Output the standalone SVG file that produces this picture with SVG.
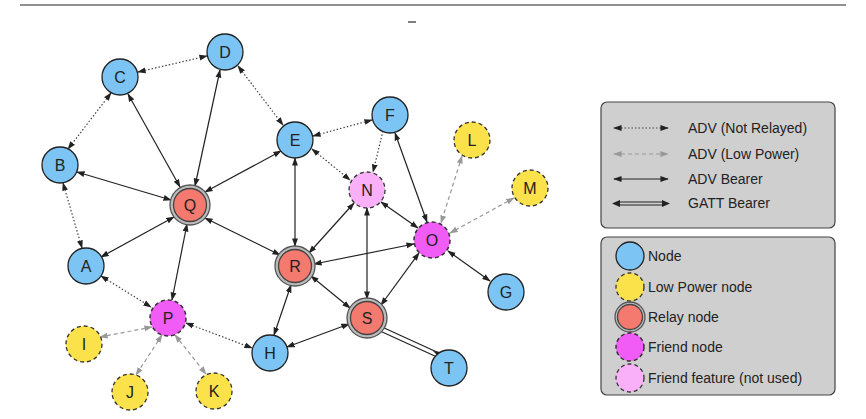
<svg xmlns="http://www.w3.org/2000/svg" width="866" height="419" viewBox="0 0 866 419">
<style>
text{font-family:"Liberation Sans",Arial,sans-serif;fill:#222}
.n text{font-size:16px;text-anchor:middle;dominant-baseline:central}
.node{fill:#7cc4f4;stroke:#222;stroke-width:1.3}
.lp{fill:#fce24a;stroke:#333;stroke-width:1.3;stroke-dasharray:4 3}
.relay{fill:#f47a70;stroke:#444;stroke-width:1.3}
.ring{fill:#bbb;stroke:#555;stroke-width:1.3}
.fr{fill:#f05cf5;stroke:#333;stroke-width:1.5;stroke-dasharray:4 3}
.ff{fill:#fab0f8;stroke:#333;stroke-width:1.3;stroke-dasharray:4 3}
.s{stroke:#222;stroke-width:1.2;fill:none;marker-start:url(#a);marker-end:url(#a)}
.d{stroke:#444;stroke-width:1.2;stroke-dasharray:1.5 2;fill:none;marker-start:url(#a);marker-end:url(#a)}
.l{stroke:#999;stroke-width:1.2;stroke-dasharray:4 3;fill:none;marker-start:url(#g);marker-end:url(#g)}
.legend{fill:#cfcfcf;stroke:#444;stroke-width:1.2}
.lt{font-size:14px}
</style>
<defs>
<marker id="a" viewBox="0 0 10 10" refX="9" refY="5" markerWidth="7" markerHeight="7" orient="auto-start-reverse"><path d="M0,1.5L10,5L0,8.5z" fill="#222"/></marker>
<marker id="g" viewBox="0 0 10 10" refX="9" refY="5" markerWidth="7" markerHeight="7" orient="auto-start-reverse"><path d="M0,1.5L10,5L0,8.5z" fill="#999"/></marker>
</defs>
<line x1="20" y1="5" x2="846" y2="5" stroke="#222" stroke-width="1"/>
<line x1="408" y1="22" x2="416" y2="22" stroke="#555" stroke-width="1.5"/>
<g id="connectors">
<line class="d" x1="138" y1="72" x2="207" y2="56"/>
<line class="d" x1="111" y1="93" x2="68" y2="149"/>
<line class="d" x1="63" y1="183" x2="82" y2="248"/>
<line class="d" x1="238" y1="66" x2="283" y2="125"/>
<line class="d" x1="313" y1="136" x2="372" y2="120"/>
<line class="d" x1="312" y1="149" x2="350" y2="180"/>
<line class="d" x1="383" y1="131" x2="373" y2="172" style="marker-start:none"/>
<line class="d" x1="101" y1="276" x2="151" y2="307"/>
<line class="d" x1="186" y1="323" x2="252" y2="348"/>
<line class="l" x1="462" y1="156" x2="441" y2="223"/>
<line class="l" x1="514" y1="198" x2="450" y2="233"/>
<line class="l" x1="152" y1="327" x2="100" y2="337"/>
<line class="l" x1="162" y1="335" x2="136" y2="375"/>
<line class="l" x1="175" y1="335" x2="206" y2="374"/>
<line class="s" x1="128" y1="94" x2="180" y2="187"/>
<line class="s" x1="220" y1="70" x2="195" y2="186"/>
<line class="s" x1="77" y1="172" x2="171" y2="200"/>
<line class="s" x1="281" y1="151" x2="205" y2="192"/>
<line class="s" x1="174" y1="217" x2="101" y2="257"/>
<line class="s" x1="187" y1="224" x2="172" y2="300"/>
<line class="s" x1="205" y1="218" x2="280" y2="255"/>
<line class="s" x1="295" y1="158" x2="295" y2="246"/>
<line class="s" x1="395" y1="133" x2="427" y2="222"/>
<line class="s" x1="381" y1="202" x2="418" y2="228"/>
<line class="s" x1="354" y1="203" x2="309" y2="253"/>
<line class="s" x1="414" y1="244" x2="314" y2="264"/>
<line class="s" x1="367" y1="208" x2="367" y2="299"/>
<line class="s" x1="419" y1="253" x2="381" y2="305"/>
<line class="s" x1="311" y1="276" x2="350" y2="308"/>
<line class="s" x1="291" y1="285" x2="274" y2="335"/>
<line class="s" x1="287" y1="347" x2="349" y2="324"/>
<line class="s" x1="448" y1="251" x2="490" y2="281"/>
<g stroke="#222" stroke-width="1.2"><line x1="380" y1="331" x2="437" y2="357"/><line x1="382" y1="327" x2="439" y2="353"/></g>
<path d="M439,357L433,351L441,352z" fill="#222"/>
</g>
<g id="C" class="n"><circle class="node" cx="120" cy="77" r="18"/><text x="120" y="77">C</text></g>
<g id="D" class="n"><circle class="node" cx="225" cy="52" r="18"/><text x="225" y="52">D</text></g>
<g id="B" class="n"><circle class="node" cx="60" cy="165" r="18"/><text x="60" y="165">B</text></g>
<g id="E" class="n"><circle class="node" cx="295" cy="140" r="18"/><text x="295" y="140">E</text></g>
<g id="F" class="n"><circle class="node" cx="390" cy="115" r="18"/><text x="390" y="115">F</text></g>
<g id="L" class="n"><circle class="lp" cx="472" cy="140" r="18"/><text x="472" y="140">L</text></g>
<g id="M" class="n"><circle class="lp" cx="530" cy="188" r="18"/><text x="530" y="188">M</text></g>
<g id="Q" class="n"><circle class="ring" cx="190" cy="205" r="20"/><circle class="relay" cx="190" cy="205" r="16.5"/><text x="190" y="205">Q</text></g>
<g id="N" class="n"><circle class="ff" cx="367" cy="190" r="18"/><text x="367" y="190">N</text></g>
<g id="O" class="n"><circle class="fr" cx="432" cy="240" r="18"/><text x="432" y="240">O</text></g>
<g id="A" class="n"><circle class="node" cx="86" cy="266" r="18"/><text x="86" y="266">A</text></g>
<g id="R" class="n"><circle class="ring" cx="295" cy="266" r="20"/><circle class="relay" cx="295" cy="266" r="16.5"/><text x="295" y="266">R</text></g>
<g id="G" class="n"><circle class="node" cx="506" cy="292" r="18"/><text x="506" y="292">G</text></g>
<g id="P" class="n"><circle class="fr" cx="168" cy="318" r="18"/><text x="168" y="318">P</text></g>
<g id="S" class="n"><circle class="ring" cx="367" cy="318" r="20"/><circle class="relay" cx="367" cy="318" r="16.5"/><text x="367" y="318">S</text></g>
<g id="I" class="n"><circle class="lp" cx="84" cy="344" r="18"/><text x="84" y="344">I</text></g>
<g id="H" class="n"><circle class="node" cx="270" cy="353" r="18"/><text x="270" y="353">H</text></g>
<g id="T" class="n"><circle class="node" cx="449" cy="368" r="18"/><text x="449" y="368">T</text></g>
<g id="J" class="n"><circle class="lp" cx="130" cy="392" r="18"/><text x="130" y="392">J</text></g>
<g id="K" class="n"><circle class="lp" cx="214" cy="391" r="18"/><text x="214" y="391">K</text></g>
<g id="legend-edges">
<rect class="legend" x="601" y="102" width="234" height="126" rx="6"/>
<line class="d" x1="614" y1="128" x2="668" y2="128"/><text class="lt" x="688" y="133">ADV (Not Relayed)</text>
<line class="l" x1="614" y1="154" x2="668" y2="154"/><text class="lt" x="688" y="159">ADV (Low Power)</text>
<line class="s" x1="614" y1="179" x2="668" y2="179"/><text class="lt" x="688" y="184">ADV Bearer</text>
<g stroke="#222" stroke-width="1.2"><line x1="618" y1="202" x2="664" y2="202"/><line x1="618" y1="205" x2="664" y2="205"/></g>
<path d="M612,203.5L620,200L620,207z M670,203.5L662,200L662,207z" fill="#222"/>
<text class="lt" x="688" y="208">GATT Bearer</text>
</g>
<g id="legend-nodes">
<rect class="legend" x="601" y="237" width="234" height="158" rx="6"/>
<circle class="node" cx="630" cy="256" r="14"/><text class="lt" x="648" y="261">Node</text>
<circle class="lp" cx="630" cy="287" r="14"/><text class="lt" x="648" y="292">Low Power node</text>
<circle class="ring" cx="630" cy="317" r="15"/><circle class="relay" cx="630" cy="317" r="12.5"/><text class="lt" x="648" y="322">Relay node</text>
<circle class="fr" cx="630" cy="347" r="14"/><text class="lt" x="648" y="352">Friend node</text>
<circle class="ff" cx="630" cy="378" r="14"/><text class="lt" x="648" y="383">Friend feature (not used)</text>
</g>
</svg>
